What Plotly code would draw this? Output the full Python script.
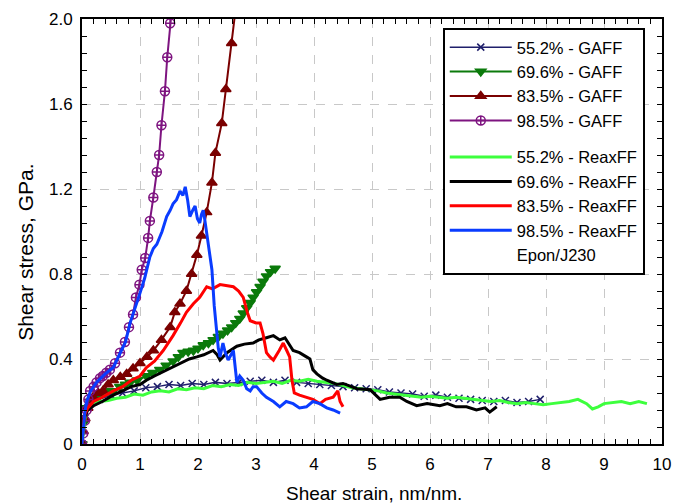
import plotly.graph_objects as go

# ---------------- data ----------------
# GAFF 55.2%
g552_x = [0, 0.05, 0.1, 0.2, 0.3, 0.5, 0.7, 0.9, 1.1, 1.3, 1.5, 1.7, 1.9, 2.1, 2.3, 2.5, 2.7, 2.9, 3.1, 3.3,
          3.5, 3.7, 3.9, 4.1, 4.3, 4.5, 4.7, 4.9, 5.1, 5.3, 5.5, 5.7, 5.9, 6.1, 6.3, 6.5, 6.7, 6.9, 7.1, 7.3,
          7.5, 7.7, 7.9]
g552_y = [0, 0.12, 0.17, 0.2, 0.21, 0.23, 0.24, 0.25, 0.265, 0.27, 0.28, 0.275, 0.285, 0.28, 0.29, 0.285, 0.29,
          0.295, 0.30, 0.29, 0.30, 0.29, 0.285, 0.28, 0.275, 0.27, 0.265, 0.26, 0.255, 0.245, 0.24, 0.235, 0.225,
          0.23, 0.22, 0.215, 0.21, 0.205, 0.2, 0.205, 0.195, 0.2, 0.21]
# GAFF 69.6%
g696_x = [0, 0.03, 0.08, 0.15, 0.25, 0.35, 0.45, 0.54, 0.65, 0.75, 0.83, 0.95, 1.11, 1.22, 1.34, 1.45, 1.57,
          1.66, 1.74, 1.83, 1.92, 2.00, 2.09, 2.18, 2.26, 2.35, 2.43, 2.51, 2.58, 2.65, 2.72, 2.78, 2.84, 2.90,
          2.95, 3.01, 3.07, 3.12, 3.18, 3.25, 3.33]
g696_y = [0, 0.10, 0.17, 0.20, 0.22, 0.24, 0.25, 0.25, 0.27, 0.28, 0.29, 0.30, 0.32, 0.335, 0.35, 0.37, 0.39,
          0.41, 0.43, 0.435, 0.44, 0.45, 0.466, 0.475, 0.49, 0.505, 0.52, 0.535, 0.55, 0.57, 0.59, 0.615, 0.64,
          0.665, 0.69, 0.715, 0.74, 0.765, 0.79, 0.81, 0.826]
# GAFF 83.5%
g835_x = [0, 0.02, 0.05, 0.10, 0.19, 0.28, 0.36, 0.45, 0.54, 0.66, 0.77, 0.88, 1.00, 1.12, 1.23, 1.37, 1.52,
          1.60, 1.69, 1.80, 1.89, 1.98, 2.06, 2.15, 2.24, 2.30, 2.41, 2.48, 2.58, 2.65]
g835_y = [0, 0.06, 0.12, 0.17, 0.22, 0.24, 0.25, 0.28, 0.30, 0.315, 0.33, 0.355, 0.38, 0.41, 0.44, 0.49, 0.55,
          0.62, 0.66, 0.72, 0.80, 0.89, 0.98, 1.09, 1.23, 1.37, 1.51, 1.67, 1.886, 2.05]
# GAFF 98.5%
g985_x = [0, 0.02, 0.05, 0.08, 0.11, 0.14, 0.20, 0.25, 0.31, 0.36, 0.42, 0.48, 0.57, 0.655, 0.74, 0.81, 0.88,
          0.93, 0.99, 1.03, 1.09, 1.14, 1.17, 1.23, 1.29, 1.33, 1.37, 1.43, 1.47, 1.52, 1.55]
g985_y = [0, 0.05, 0.11, 0.16, 0.21, 0.25, 0.27, 0.29, 0.31, 0.32, 0.335, 0.35, 0.38, 0.43, 0.48, 0.55, 0.61,
          0.69, 0.75, 0.82, 0.875, 0.97, 1.05, 1.16, 1.28, 1.36, 1.50, 1.66, 1.82, 1.98, 2.05]

# ReaxFF 55.2%
r552_x = [0, 0.03, 0.06, 0.1, 0.2, 0.3, 0.45, 0.6, 0.75, 0.9, 1.05, 1.2, 1.35, 1.5, 1.65, 1.8, 1.95, 2.1, 2.25,
          2.4, 2.55, 2.7, 2.85, 3.0, 3.15, 3.3, 3.45, 3.6, 3.75, 3.9, 4.05, 4.2, 4.35, 4.5, 4.65, 4.8, 4.95, 5.1,
          5.25, 5.4, 5.55, 5.7, 5.85, 6.0, 6.15, 6.3, 6.45, 6.6, 6.75, 6.9, 7.05, 7.2, 7.35, 7.5, 7.65, 7.8,
          7.95, 8.1, 8.25, 8.4, 8.55, 8.7, 8.8, 8.9, 9.0, 9.15, 9.3, 9.45, 9.6, 9.74]
r552_y = [0, 0.08, 0.14, 0.17, 0.19, 0.2, 0.205, 0.215, 0.22, 0.235, 0.23, 0.245, 0.25, 0.245, 0.26, 0.255,
          0.265, 0.26, 0.275, 0.27, 0.28, 0.275, 0.29, 0.285, 0.29, 0.295, 0.285, 0.30, 0.295, 0.305, 0.295,
          0.29, 0.285, 0.275, 0.265, 0.26, 0.255, 0.25, 0.24, 0.235, 0.23, 0.225, 0.22, 0.225, 0.22, 0.215,
          0.22, 0.215, 0.21, 0.205, 0.2, 0.205, 0.195, 0.19, 0.195, 0.19, 0.185, 0.19, 0.195, 0.2, 0.21, 0.19,
          0.165, 0.175, 0.19, 0.195, 0.2, 0.19, 0.2, 0.19]
# ReaxFF 69.6%
r696_x = [0, 0.02, 0.05, 0.1, 0.2, 0.35, 0.54, 0.7, 0.85, 1.0, 1.11, 1.25, 1.4, 1.55, 1.69, 1.85, 1.98, 2.1,
          2.26, 2.33, 2.38, 2.5, 2.67, 2.8, 2.95, 3.05, 3.18, 3.3, 3.41, 3.5, 3.64, 3.75, 3.87, 3.93, 3.98, 4.05,
          4.15, 4.22, 4.39, 4.5, 4.74, 4.97, 5.14, 5.3, 5.48, 5.6, 5.77, 5.95, 6.17, 6.3, 6.45, 6.63, 6.8, 6.95,
          7.03, 7.15]
r696_y = [0, 0.08, 0.13, 0.16, 0.18, 0.2, 0.23, 0.25, 0.27, 0.28, 0.30, 0.32, 0.34, 0.36, 0.38, 0.40, 0.41,
          0.42, 0.44, 0.42, 0.395, 0.43, 0.46, 0.47, 0.475, 0.49, 0.50, 0.51, 0.49, 0.50, 0.44, 0.43, 0.41, 0.40,
          0.35, 0.33, 0.31, 0.30, 0.28, 0.285, 0.26, 0.255, 0.21, 0.22, 0.22, 0.20, 0.18, 0.19, 0.18, 0.19,
          0.175, 0.175, 0.16, 0.17, 0.15, 0.175]
# ReaxFF 83.5%
r835_x = [0, 0.02, 0.05, 0.1, 0.2, 0.35, 0.54, 0.7, 0.85, 1.0, 1.11, 1.25, 1.4, 1.57, 1.7, 1.8, 1.92, 2.03,
          2.15, 2.25, 2.38, 2.5, 2.61, 2.7, 2.78, 2.85, 2.9, 3.0, 3.07, 3.12, 3.18, 3.24, 3.30, 3.40, 3.47, 3.53,
          3.58, 3.62, 3.66, 3.75, 3.87, 3.98, 4.1, 4.2, 4.33, 4.41, 4.45, 4.5]
r835_y = [0, 0.08, 0.14, 0.17, 0.20, 0.22, 0.25, 0.27, 0.30, 0.32, 0.36, 0.39, 0.44, 0.51, 0.57, 0.62, 0.66,
          0.69, 0.74, 0.73, 0.75, 0.745, 0.74, 0.72, 0.69, 0.62, 0.58, 0.57, 0.57, 0.52, 0.43, 0.41, 0.395, 0.44,
          0.475, 0.44, 0.41, 0.30, 0.24, 0.23, 0.22, 0.21, 0.19, 0.21, 0.22, 0.25, 0.20, 0.175]
# ReaxFF 98.5%
r985_x = [0, 0.02, 0.05, 0.08, 0.15, 0.25, 0.4, 0.54, 0.65, 0.75, 0.83, 0.92, 1.0, 1.08, 1.17, 1.23, 1.29,
          1.38, 1.46, 1.52, 1.57, 1.63, 1.69, 1.74, 1.78, 1.82, 1.86, 1.91, 1.95, 1.99, 2.03, 2.06, 2.09, 2.12,
          2.15, 2.2, 2.24, 2.28, 2.32, 2.35, 2.38, 2.43, 2.47, 2.52, 2.57, 2.61, 2.67, 2.72, 2.78, 2.84, 2.90,
          2.95, 3.01, 3.1, 3.18, 3.3, 3.41, 3.52, 3.64, 3.75, 3.87, 3.98, 4.1, 4.22, 4.33, 4.45]
r985_y = [0, 0.08, 0.15, 0.2, 0.25, 0.29, 0.33, 0.36, 0.42, 0.48, 0.57, 0.64, 0.71, 0.78, 0.88, 0.92, 0.94,
          1.0, 1.07, 1.10, 1.13, 1.15, 1.19, 1.17, 1.21, 1.15, 1.07, 1.10, 1.12, 1.06, 1.04, 1.08, 1.10, 1.05,
          0.99, 0.90, 0.82, 0.65, 0.52, 0.45, 0.41, 0.475, 0.43, 0.395, 0.42, 0.44, 0.29, 0.32, 0.30, 0.26,
          0.25, 0.27, 0.27, 0.24, 0.22, 0.20, 0.175, 0.20, 0.19, 0.17, 0.175, 0.20, 0.19, 0.17, 0.16, 0.145]

x_ticks = [0, 1, 2, 3, 4, 5, 6, 7, 8, 9, 10]
y_ticks = [0, 0.4, 0.8, 1.2, 1.6, 2.0]
y_ticktext = ["0", "0.4", "0.8", "1.2", "1.6", "2.0"]

FONT = "Arial, Liberation Sans, sans-serif"

fig = go.Figure()

gaff = [
    ("55.2% - GAFF", g552_x, g552_y, "#1f1f6b", "x-thin-open", 7, 1.5),
    ("69.6% - GAFF", g696_x, g696_y, "#0b7a0b", "triangle-down", 9, 2),
    ("83.5% - GAFF", g835_x, g835_y, "#7a0000", "triangle-up", 9, 2),
    ("98.5% - GAFF", g985_x, g985_y, "#7e1480", "circle-cross-open", 9, 2),
]
for name, xs, ys, col, sym, msz, lw in gaff:
    fig.add_trace(go.Scatter(
        x=xs, y=ys, name=name, mode="lines+markers", legendgroup="gaff",
        line=dict(color=col, width=lw),
        marker=dict(symbol=sym, size=msz, color=col, line=dict(color=col, width=1.5)),
    ))

reax = [
    ("55.2% - ReaxFF", r552_x, r552_y, "#3dff3d"),
    ("69.6% - ReaxFF", r696_x, r696_y, "#000000"),
    ("83.5% - ReaxFF", r835_x, r835_y, "#ff0000"),
    ("98.5% - ReaxFF", r985_x, r985_y, "#0a3cff"),
]
for name, xs, ys, col in reax:
    fig.add_trace(go.Scatter(
        x=xs, y=ys, name=name, mode="lines", legendgroup="reax",
        line=dict(color=col, width=3),
    ))

fig.add_trace(go.Scatter(
    x=[None], y=[None], name="Epon/J230", mode="lines", legendgroup="reax",
    line=dict(color="rgba(0,0,0,0)", width=1),
))

axis_common = dict(
    showline=True, linewidth=2, linecolor="black", mirror="ticks",
    ticks="inside", ticklen=5, tickwidth=1.2, tickcolor="black",
    showgrid=True, gridcolor="#c8c8c8", griddash="dash", gridwidth=1,
    zeroline=False, tickfont=dict(family=FONT, size=17, color="black"),
    automargin=False,
)

fig.update_xaxes(range=[0, 10], tickmode="array", tickvals=x_ticks,
                 minor=dict(dtick=0.2, tick0=0, ticks="inside", ticklen=5, tickcolor="black", showgrid=False),
                 ticklabelstandoff=4, **axis_common)
fig.update_yaxes(range=[0, 2], tickmode="array", tickvals=y_ticks, ticktext=y_ticktext,
                 minor=dict(dtick=0.08, tick0=0, ticks="inside", ticklen=5, tickcolor="black", showgrid=False),
                 ticklabelstandoff=4, **axis_common)

fig.update_layout(
    width=673, height=504,
    margin=dict(l=82, r=11, t=19, b=60, autoexpand=False),
    paper_bgcolor="white", plot_bgcolor="white",
    font=dict(family=FONT, color="black"),
    showlegend=True,
    legend=dict(
        x=0.622, y=0.979, xanchor="left", yanchor="top",
        bgcolor="white", bordercolor="black", borderwidth=2,
        font=dict(family=FONT, size=16.5, color="black"),
        traceorder="grouped", tracegroupgap=12, itemwidth=62,
    ),
    annotations=[
        dict(text="Shear strain, nm/nm.", xref="paper", yref="paper", x=0.503, y=-0.1176,
             xanchor="center", yanchor="middle", showarrow=False,
             font=dict(family=FONT, size=19, color="black")),
        dict(text="Shear stress, GPa.", xref="paper", yref="paper", x=-0.0966, y=0.452,
             xanchor="center", yanchor="middle", showarrow=False, textangle=-90,
             font=dict(family=FONT, size=21, color="black")),
    ],
)

fig.write_html("out.html")
